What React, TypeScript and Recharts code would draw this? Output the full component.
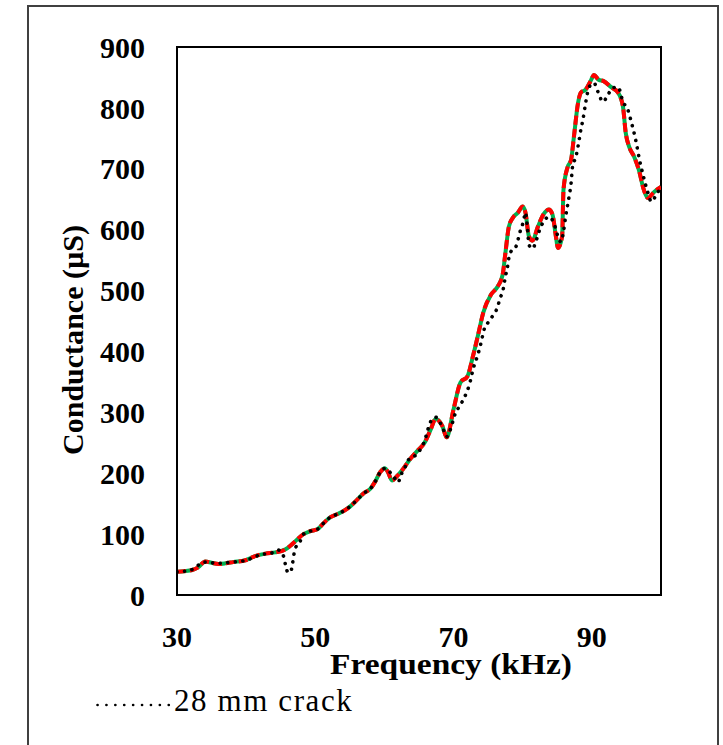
import React from 'react';
import { LineChart, Line, XAxis, YAxis, ReferenceArea } from 'recharts';

const mainFreq = [30, 31, 32.2, 33, 34.1, 35, 36, 37, 38.1, 39.9, 41.3, 42.8, 44.2, 45.7, 46.7, 48.3, 49.3, 50.3, 51.2, 52.2, 53.2, 54.1, 55.1, 56.1, 57, 58, 58.7, 59.4, 60.1, 60.5, 61.1, 61.8, 62.7, 63.7, 64.7, 65.8, 66.7, 67.4, 68.4, 69, 70, 71, 72, 72.8, 73.5, 74.3, 75.4, 76.4, 77.1, 77.5, 78, 78.6, 79.3, 80, 80.4, 80.9, 81.4, 82.2, 83, 83.8, 84.3, 84.8, 85.1, 85.7, 85.9, 86.5, 87, 87.4, 88, 88.4, 89.1, 89.9, 90.3, 91, 91.7, 92.8, 93.8, 94.5, 94.9, 95.4, 96.1, 96.8, 97.5, 98.1, 99, 100];
const mainVal = [38, 39, 41, 45, 55, 53, 51, 52, 54, 57, 64, 68, 70, 75, 84, 100, 105, 108, 118, 128, 133, 138, 146, 157, 167, 175, 187, 202, 208, 202, 188, 195, 207, 223, 236, 250, 272, 289, 277, 259, 305, 349, 359, 392, 425, 464, 493, 507, 526, 562, 605, 620, 628, 638, 628, 589, 582, 605, 625, 633, 625, 589, 570, 589, 666, 703, 715, 752, 808, 825, 830, 846, 854, 846, 844, 834, 825, 802, 759, 736, 720, 698, 666, 652, 662, 670];

const crackFreq = [30, 32, 34, 36, 38, 40, 42, 44, 44.6, 45.4, 45.7, 46, 46.4, 46.7, 46.9, 47.1, 47.8, 48.3, 49.3, 50.3, 51.2, 52.2, 53.2, 54.1, 55.1, 56.1, 57, 58, 58.7, 59.4, 60.1, 60.5, 61.3, 62, 62.3, 63, 63.3, 64.1, 64.9, 65.7, 66.7, 67.4, 68.4, 69, 69.9, 70.3, 70.9, 71.4, 71.9, 72.3, 72.9, 73.2, 73.6, 73.9, 74.5, 75.1, 75.8, 76.4, 76.7, 77.1, 77.5, 77.8, 78, 78.3, 79.1, 79.4, 79.7, 80.1, 80.4, 80.7, 80.9, 81.4, 81.9, 82.3, 83, 83.8, 84.5, 85.1, 85.5, 85.9, 86.2, 86.7, 87, 87.2, 87.7, 88.1, 88.4, 88.7, 89.1, 89.6, 90.3, 90.9, 91.6, 92.3, 93, 93.8, 94.5, 95.2, 95.7, 96.4, 96.8, 97.4, 98.1, 98.6, 99.3, 100];
const crackVal = [38, 41, 54, 52, 54, 57, 66, 70, 74, 64, 49, 38, 37, 51, 66, 76, 88, 100, 105, 108, 118, 128, 133, 138, 146, 157, 167, 175, 187, 202, 208, 205, 195, 185, 195, 210, 220, 226, 234, 250, 285, 292, 275, 260, 285, 300, 310, 321, 333, 346, 374, 384, 398, 411, 439, 449, 461, 474, 487, 498, 523, 539, 554, 564, 574, 587, 600, 613, 628, 600, 575, 569, 580, 595, 613, 621, 611, 589, 580, 597, 621, 654, 677, 703, 720, 743, 764, 780, 808, 834, 841, 826, 810, 821, 833, 834, 810, 797, 777, 744, 720, 690, 661, 646, 657, 670];

const xTicks = [30, 50, 70, 90];
const yTicks = [0, 100, 200, 300, 400, 500, 600, 700, 800, 900];
const xTitle = 'Frequency (kHz)';
const yTitle = 'Conductance (µS)';
const legendLabel = '28 mm crack';

const mainData = mainFreq.map((f, i) => ({ f, v: mainVal[i] }));
const crackData = crackFreq.map((f, i) => ({ f, v: crackVal[i] }));

const FONT = '"Liberation Serif", "Times New Roman", serif';

const renderXTitle = () => (
  <text x={451} y={674} textAnchor="middle" fontFamily={FONT} fontWeight="bold" fontSize={30} fill="#000" textLength={242} lengthAdjust="spacingAndGlyphs">
    {xTitle}
  </text>
);

const renderYTitle = () => (
  <text transform="translate(83,340) rotate(-90)" textAnchor="middle" fontFamily={FONT} fontWeight="bold" fontSize={30} fill="#000" textLength={230} lengthAdjust="spacingAndGlyphs">
    {yTitle}
  </text>
);

export default function App() {
  return (
    <div style={{ position: 'absolute', left: 0, top: 0, width: 723, height: 745, overflow: 'hidden', background: '#fff' }}>
      <div style={{ position: 'absolute', left: 27, top: 5, width: 688, height: 800, border: '2px solid #404040' }} />
      <div style={{ position: 'absolute', left: 0, top: 0 }}>
        <LineChart width={723} height={745} margin={{ top: 47, right: 62, bottom: 90, left: 77 }}>
          <XAxis
            type="number"
            dataKey="f"
            domain={[30, 100]}
            ticks={xTicks}
            allowDataOverflow
            axisLine={{ stroke: '#000', strokeWidth: 2 }}
            tickLine={false}
            tickSize={0}
            tickMargin={31}
            height={60}
            tick={{ fontFamily: FONT, fontWeight: 'bold', fontSize: 30, fill: '#000' }}
            label={{ content: renderXTitle }}
          />
          <YAxis
            type="number"
            domain={[0, 900]}
            ticks={yTicks}
            allowDataOverflow
            width={100}
            axisLine={{ stroke: '#000', strokeWidth: 2 }}
            tickLine={false}
            tickSize={0}
            tickMargin={32}
            tick={{ fontFamily: FONT, fontWeight: 'bold', fontSize: 30, fill: '#000' }}
            label={{ content: renderYTitle }}
          />
          <ReferenceArea x1={30} x2={100} y1={0} y2={900} fill="none" stroke="#000" strokeWidth={2} ifOverflow="visible" />
          <Line data={mainData} dataKey="v" type="monotone" stroke="#00b050" strokeWidth={4} dot={false} isAnimationActive={false} />
          <Line data={mainData} dataKey="v" type="monotone" stroke="#ff0000" strokeWidth={4} strokeDasharray="9 4" dot={false} isAnimationActive={false} />
          <Line data={crackData} dataKey="v" type="monotone" stroke="#000" strokeWidth={3.6} strokeDasharray="0.1 7.5" strokeLinecap="round" dot={false} isAnimationActive={false} />
        </LineChart>
      </div>
      <div style={{ position: 'absolute', left: 96, top: 686, display: 'flex', alignItems: 'center' }}>
        <svg width={78} height={30}>
          <line x1={1.5} y1={19} x2={76} y2={19} stroke="#000" strokeWidth={2.6} strokeDasharray="0.1 8.8" strokeLinecap="round" />
        </svg>
        <span style={{ fontFamily: FONT, fontSize: 31, color: '#000', lineHeight: '30px', letterSpacing: 1.6 }}>{legendLabel}</span>
      </div>
    </div>
  );
}
